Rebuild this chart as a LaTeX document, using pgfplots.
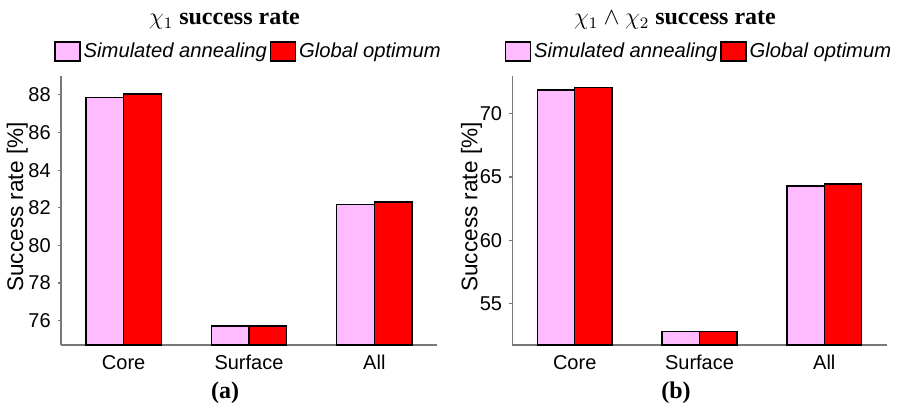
\documentclass[border=0pt]{standalone}
\usepackage{fontspec}
\setmainfont{Liberation Sans}
\newfontfamily\serifbold{Liberation Serif}
\usepackage{pgfplots}
\usepackage{pgfplotstable}
\pgfplotsset{compat=1.18}

\definecolor{sapink}{RGB}{255,187,255}
\definecolor{gored}{RGB}{255,0,0}
\definecolor{spine}{RGB}{120,120,120}

% success rates [%] per region: simulated annealing (sa) vs global optimum (go)
\pgfplotstableread{
idx sa    go
1   87.86 88.05
2   75.72 75.72
3   82.18 82.30
}\chione
\pgfplotstableread{
idx sa    go
1   71.85 72.05
2   52.82 52.79
3   64.29 64.45
}\chiboth

\pgfplotsset{
  succ/.style={
    scale only axis, height=134.5pt,
    axis lines=left,
    axis line style={-, draw=spine, line width=0.6pt},
    xmin=0.5, xmax=3.5,
    xtick={1,2,3}, xticklabels={Core,Surface,All},
    x tick style={draw=none},
    y tick style={draw=spine, line width=0.6pt},
    tick align=outside, major tick length=1.6pt,
    ticklabel style={font=\fontsize{10}{11}\selectfont},
    /pgf/number format/assume math mode=true,
    ylabel={Success rate [\%]},
    ylabel style={font=\fontsize{11.3}{13}\selectfont, anchor=center},
    ybar, bar width=0.3,
    every axis plot/.append style={draw=black, line width=0.7pt},
    legend style={draw=none, fill=none, at={(0.5,1.091)}, anchor=center,
      legend columns=2, font=\fontsize{10.1}{12}\selectfont\itshape,
      inner sep=0pt, nodes={inner sep=1.5pt},
      /tikz/every even column/.append style={column sep=0pt}},
    legend image code/.code={\draw[##1, bar shift=0pt] (0pt,-4.75pt) rectangle (12.5pt,4.75pt);},
  }
}

\begin{document}
\begin{tikzpicture}
% left panel
\begin{axis}[succ, at={(30.5pt,28.5pt)}, anchor=south west, width=188pt,
  ymin=74.71, ymax=89.0, ytick={76,78,80,82,84,86,88},
  ylabel style={at={(axis description cs:-0.116,0.513)}}]
  \addplot[fill=sapink, bar shift=-0.15] table[x=idx, y=sa] {\chione};
  \addplot[fill=gored, bar shift=0.15] table[x=idx, y=go] {\chione};
  \legend{Simulated annealing, Global optimum}
\end{axis}
% right panel
\begin{axis}[succ, at={(256.15pt,28.5pt)}, anchor=south west, width=187.2pt,
  ymin=51.74, ymax=72.97, ytick={55,60,65,70},
  ylabel style={at={(axis description cs:-0.109,0.513)}}]
  \addplot[fill=sapink, bar shift=-0.15] table[x=idx, y=sa] {\chiboth};
  \addplot[fill=gored, bar shift=0.15] table[x=idx, y=go] {\chiboth};
  \legend{Simulated annealing, Global optimum}
\end{axis}
% panel titles and sub-captions
\node[font=\serifbold\bfseries\fontsize{12}{14}\selectfont] at (112.25pt,191pt) {$\chi_1$ success rate};
\node[font=\serifbold\bfseries\fontsize{12}{14}\selectfont] at (337.5pt,191pt) {$\chi_1\wedge\chi_2$ success rate};
\node[font=\serifbold\bfseries\fontsize{12}{14}\selectfont] at (112.5pt,4.5pt) {(a)};
\node[font=\serifbold\bfseries\fontsize{12}{14}\selectfont] at (338pt,4.5pt) {(b)};
\pgfresetboundingbox
\useasboundingbox (0,0) rectangle (449pt,201pt);
\end{tikzpicture}
\end{document}
